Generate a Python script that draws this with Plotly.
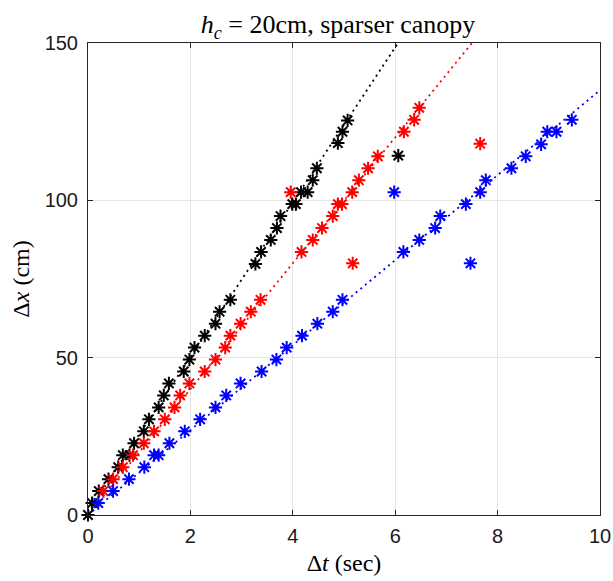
import plotly.graph_objects as go

# Black series
black_t = [0, 0.08, 0.21, 0.40, 0.59, 0.68, 0.81, 0.90, 1.09, 1.19, 1.38, 1.48, 1.58, 1.87, 1.98,
           2.08, 2.28, 2.49, 2.57, 2.78, 3.27, 3.38, 3.57, 3.69, 3.76, 3.99, 4.06, 4.16, 4.29,
           4.39, 4.47, 4.88, 4.97, 5.07, 6.06]
black_x = [0, 3.8, 7.6, 11.4, 15.2, 19.0, 19.0, 22.8, 26.6, 30.4, 34.2, 38.0, 41.8, 45.6, 49.4,
           53.2, 57.0, 60.8, 64.6, 68.4, 79.8, 83.6, 87.4, 91.2, 95.0, 98.8, 98.8, 102.6, 102.6,
           106.4, 110.2, 118.2, 121.8, 125.4, 114.2]

# Red series
red_t = [0.30, 0.49, 0.68, 0.88, 1.09, 1.29, 1.50, 1.69, 1.80, 1.98, 2.28, 2.49, 2.68, 2.78,
         2.98, 3.18, 3.37, 4.17, 4.39, 4.57, 4.78, 4.88, 4.96, 5.16, 5.29, 5.47, 5.66, 6.17,
         6.37, 6.47, 3.96, 5.17, 7.66]
red_x = [7.6, 11.4, 15.2, 19.0, 22.8, 26.6, 30.4, 34.2, 38.0, 41.8, 45.6, 49.4, 53.2, 57.0,
         60.8, 64.6, 68.4, 83.6, 87.4, 91.2, 95.0, 98.8, 98.8, 102.6, 106.4, 110.2, 114.0, 121.8,
         125.6, 129.4, 102.6, 80.0, 118.0]

# Blue series
blue_t = [0.20, 0.49, 0.80, 1.10, 1.29, 1.38, 1.59, 1.89, 2.19, 2.49, 2.70, 2.98, 3.39, 3.68,
          3.88, 4.18, 4.48, 4.78, 4.97, 6.16, 6.47, 6.78, 6.88, 7.38, 7.66, 7.77, 8.27, 8.55,
          8.85, 8.97, 9.15, 9.45, 5.98, 7.47]
blue_x = [3.8, 7.6, 11.4, 15.2, 19.0, 19.0, 22.8, 26.6, 30.4, 34.2, 38.0, 41.8, 45.6, 49.4,
          53.2, 57.0, 60.8, 64.6, 68.4, 83.6, 87.4, 91.2, 95.0, 98.8, 102.6, 106.4, 110.2, 114.0,
          117.8, 121.8, 121.8, 125.6, 102.6, 80.0]

# Linear fits (slope cm/s, intercept cm)
fit_black = (24.6, 1.0)
fit_red = (20.0, 0.0)
fit_blue = (13.5, 0.0)
fit_t = [0, 10]

x_ticks = [0, 2, 4, 6, 8, 10]
y_ticks = [0, 50, 100, 150]

SERIF = "Liberation Serif, Times New Roman, serif"
SANS = "Liberation Sans, Arial, Helvetica, sans-serif"

W, H = 613, 581

fig = go.Figure()

series = [
    (black_t, black_x, fit_black, "black"),
    (red_t, red_x, fit_red, "red"),
    (blue_t, blue_x, fit_blue, "blue"),
]

for t, x, (m, c), col in series:
    fig.add_trace(go.Scatter(
        x=fit_t, y=[m * tt + c for tt in fit_t], mode="lines",
        line=dict(color=col, width=1.8, dash="2px,4px"),
        showlegend=False, hoverinfo="skip"))

for t, x, fit, col in series:
    fig.add_trace(go.Scatter(
        x=t, y=x, mode="markers", cliponaxis=False,
        marker=dict(symbol="asterisk-open", size=11, color=col,
                    line=dict(color=col, width=2)),
        showlegend=False))

axis_common = dict(
    showline=True, linecolor="#262626", linewidth=1, mirror="ticks",
    ticks="inside", ticklen=5, tickcolor="#262626",
    showgrid=True, gridcolor="#e5e5e5", gridwidth=1, zeroline=False,
    automargin=False,
    tickfont=dict(family=SANS, size=20, color="#1a1a1a"),
)

fig.update_layout(
    width=W, height=H,
    margin=dict(l=88, r=13, t=43, b=66),
    paper_bgcolor="white", plot_bgcolor="white",
    title=dict(text="<i>h</i><sub><i>c</i></sub> = 20cm, sparser canopy",
               x=338 / W, xanchor="center", xref="container",
               y=1 - 24 / H, yanchor="middle", yref="container",
               font=dict(family=SERIF, size=26, color="black")),
    xaxis=dict(range=[0, 10], tickvals=x_ticks, ticklabelstandoff=3,
               title=dict(text="Δ<i>t</i> (sec)", standoff=8,
                          font=dict(family=SERIF, size=24, color="black")),
               **axis_common),
    yaxis=dict(range=[0, 150], tickvals=y_ticks, ticklabelstandoff=5,
               title=dict(text="Δ<i>x</i> (cm)", standoff=8,
                          font=dict(family=SERIF, size=24, color="black")),
               **axis_common),
)

fig.write_html(
    "out.html",
    config={"displayModeBar": False},
    post_script="document.body.style.margin='0';document.body.style.overflow='hidden';",
)
